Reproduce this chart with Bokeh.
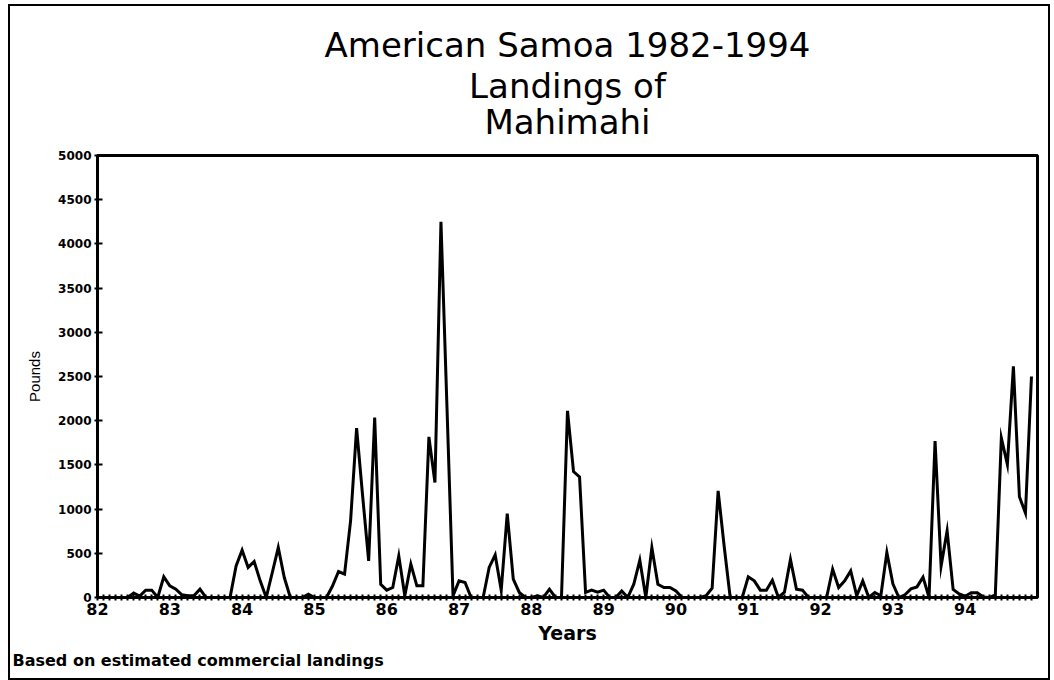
from bokeh.plotting import figure
from bokeh.models import FixedTicker, Title, Range1d
from bokeh.layouts import column
from bokeh.embed import file_html
from bokeh.resources import INLINE

title_lines = ["American Samoa 1982-1994", "Landings of", "Mahimahi"]
footer = "Based on estimated commercial landings"
x_title = "Years"
y_title = "Pounds"

year_labels = ["82", "83", "84", "85", "86", "87", "88", "89", "90", "91", "92", "93", "94"]
year_values = [82, 83, 84, 85, 86, 87, 88, 89, 90, 91, 92, 93, 94]
y_tick_values = [0, 500, 1000, 1500, 2000, 2500, 3000, 3500, 4000, 4500, 5000]

# monthly landings (pounds), Jan 1982 .. Dec 1994
pounds = [
    0, 0, 0, 0, 0, 0, 50, 15, 83, 83, 0, 234,            # 1982
    132, 94, 30, 20, 20, 94, 0, 0, 0, 0, 0, 358,          # 1983
    535, 340, 407, 188, 0, 280, 565, 226, 0, 0, 0, 37,    # 1984
    0, 0, 0, 130, 294, 264, 867, 1915, 1150, 415, 2036, 150,  # 1985
    83, 113, 471, 19, 377, 132, 132, 1817, 1300, 4250, 2150, 19,  # 1986
    188, 170, 0, 0, 0, 340, 482, 83, 950, 207, 57, 0,     # 1987
    0, 19, 0, 94, 0, 0, 2111, 1425, 1365, 57, 83, 60,     # 1988
    83, 0, 0, 75, 0, 150, 422, 0, 565, 150, 113, 113,     # 1989
    75, 0, 0, 0, 0, 20, 105, 1206, 580, 0, 0, 0,          # 1990
    234, 188, 83, 83, 196, 0, 60, 430, 94, 83, 0, 0,      # 1991
    0, 0, 320, 113, 188, 300, 19, 188, 0, 57, 19, 509,    # 1992
    155, 0, 30, 98, 120, 230, 0, 1770, 355, 755, 90, 40,  # 1993
    15, 55, 55, 5, 0, 30, 1805, 1505, 2615, 1140, 955, 2500,  # 1994
]

x = [year_values[0] + i / 12 for i in range(len(pounds))]

FONT = "DejaVu Sans"

p = figure(width=1038, height=672,
           x_range=Range1d(82, 95), y_range=Range1d(0, 5000),
           output_backend="svg", toolbar_location=None,
           min_border_left=87, min_border_right=11,
           min_border_top=149, min_border_bottom=81)
p.grid.visible = False
p.outline_line_color = "black"
p.outline_line_width = 3
p.background_fill_color = "white"
p.border_fill_color = "white"

p.line(x, pounds, line_color="black", line_width=3, line_join="miter")

# x axis
p.xaxis.ticker = FixedTicker(ticks=year_values, minor_ticks=x)
p.xaxis.major_label_overrides = {v: l for v, l in zip(year_values, year_labels)}
p.xaxis.major_tick_in = 0
p.xaxis.major_tick_out = 0
p.xaxis.minor_tick_in = 3
p.xaxis.minor_tick_out = 3
p.xaxis.minor_tick_line_width = 2
p.xaxis.minor_tick_line_color = "black"
p.xaxis.axis_line_width = 3
p.xaxis.axis_line_color = "black"
p.xaxis.major_label_text_font = FONT
p.xaxis.major_label_text_font_style = "bold"
p.xaxis.major_label_text_font_size = "16px"
p.xaxis.major_label_text_color = "black"
p.xaxis.major_label_standoff = 2
p.xaxis.axis_label = x_title
p.xaxis.axis_label_text_font = FONT
p.xaxis.axis_label_text_font_style = "bold"
p.xaxis.axis_label_text_font_size = "19px"
p.xaxis.axis_label_text_color = "black"
p.xaxis.axis_label_standoff = 4

# y axis
p.yaxis.ticker = FixedTicker(ticks=y_tick_values)
p.yaxis.major_label_overrides = {v: str(v) for v in y_tick_values}
p.yaxis.major_tick_in = 5
p.yaxis.major_tick_out = 3
p.yaxis.major_tick_line_width = 2
p.yaxis.minor_tick_line_color = None
p.yaxis.axis_line_width = 3
p.yaxis.axis_line_color = "black"
p.yaxis.major_label_text_font = FONT
p.yaxis.major_label_text_font_style = "bold"
p.yaxis.major_label_text_font_size = "12px"
p.yaxis.major_label_text_color = "black"
p.yaxis.major_label_standoff = 3
p.yaxis.axis_label = y_title
p.yaxis.axis_label_text_font = "Liberation Sans"
p.yaxis.axis_label_text_font_style = "normal"
p.yaxis.axis_label_text_font_size = "15px"
p.yaxis.axis_label_text_color = "black"
p.yaxis.axis_label_standoff = 12

# spacer between the plot frame and the three-line title
p.add_layout(Title(text=" ", text_font_size="1px", standoff=14), "above")
# titles (added bottom-up, so the first line ends on top)
standoffs = [4, -6, -6]
for line, so in reversed(list(zip(title_lines, standoffs))):
    p.add_layout(Title(text=line, align="center", text_font=FONT,
                       text_font_size="34px", text_font_style="normal",
                       text_color="black", standoff=so), "above")

p.add_layout(Title(text=footer, align="left", offset=-85, text_font=FONT,
                   text_font_size="16px", text_font_style="bold",
                   text_color="black", standoff=4), "below")

page = column(p, margin=(4, 0, 0, 8), styles={"border": "2px solid black"})

open("out.html", "w").write(file_html(page, INLINE))
